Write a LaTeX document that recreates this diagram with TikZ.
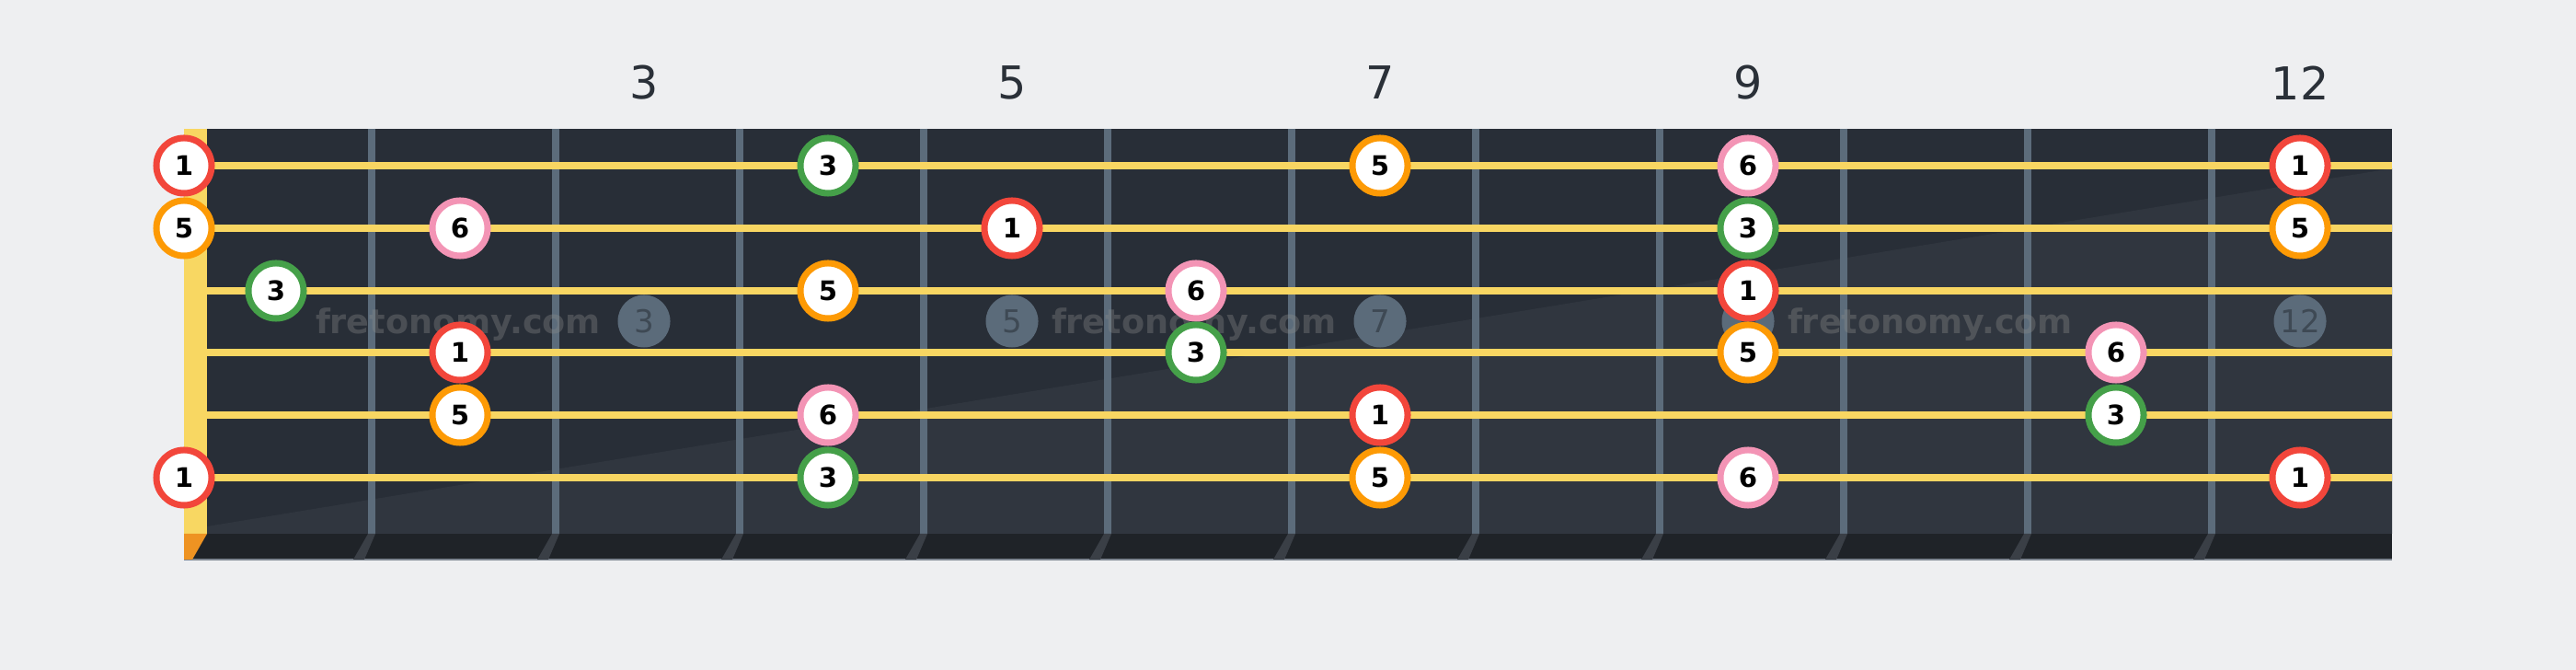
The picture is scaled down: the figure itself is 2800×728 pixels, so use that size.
\documentclass[tikz,border=0pt]{standalone}
\usepackage{fontspec}
\setmainfont{DejaVu Sans}
\usepackage{tikz}
\definecolor{fbpage}{HTML}{EEEFF1}
\definecolor{fbdark}{HTML}{282E37}
\definecolor{fblight}{HTML}{30363F}
\definecolor{fbstrip}{HTML}{1F2328}
\definecolor{fbedge}{HTML}{7D8590}
\definecolor{fbnut}{HTML}{F8D762}
\definecolor{fbnutfoot}{HTML}{EE9322}
\definecolor{fbfret}{HTML}{5C6C7B}
\definecolor{fbfretfoot}{HTML}{3A3F46}
\definecolor{fbstring}{HTML}{F8D662}
\definecolor{fbmark}{HTML}{5B6B7A}
\definecolor{fbmarktext}{HTML}{3E4954}
\definecolor{fbnumber}{HTML}{2A3038}
\definecolor{fbred}{HTML}{F2463B}
\definecolor{fborange}{HTML}{FD9A05}
\definecolor{fbgreen}{HTML}{45A049}
\definecolor{fbpink}{HTML}{F394B5}

\begin{document}
\begin{tikzpicture}[x=0.01cm, y=-0.01cm,
    note/.style   = {circle, draw, fill=white, line width=1.99pt,
                     minimum size=0.6cm, inner sep=0pt, text=black,
                     font=\bfseries\fontsize{8.3}{9}\selectfont},
    root/.style   = {note, draw=fbred},
    third/.style  = {note, draw=fbgreen},
    fifth/.style  = {note, draw=fborange},
    sixth/.style  = {note, draw=fbpink},
    marker/.style = {circle, fill=fbmark, minimum size=0.57cm, inner sep=0pt,
                     text=fbmarktext, font=\fontsize{9.7}{10}\selectfont},
    fretnum/.style= {text=fbnumber, font=\fontsize{14}{16}\selectfont},
    brand/.style  = {anchor=base, text=white!55!black, text opacity=0.35,
                     font=\bfseries\fontsize{10.4}{12}\selectfont},
    wire/.style   = {line width=2.28pt, fbfret},
    gut/.style    = {line width=2.2pt, fbstring},
]

  \useasboundingbox[fill=fbpage] (0,0) rectangle (2800,728);

  % Board
  \fill[fbdark] (225,140) rectangle (2600,580);
  \fill[fblight] (225,572) -- (2600,183) -- (2600,580) -- (225,580) -- cycle;
  \fill[fbstrip] (200,580) rectangle (2600,608);
  \fill[fbedge] (200,607) rectangle (2600,609);
  \fill[fbnut] (200,140) rectangle (225,580);
  \fill[fbnutfoot] (200,580) -- (225,580) -- (209,608) -- (200,608) -- cycle;

  % Frets
  \foreach \x in {404,604,...,2404} {
    \draw[wire] (\x,140) -- (\x,580);
    \fill[fbfretfoot] (\x-4,580) -- (\x+4,580) -- (\x-8,608) -- (\x-20,608) -- cycle;
  }

  % Fret numbers
  \node[fretnum] (n3)  at (700,90)  {3};
  \node[fretnum] (n5)  at (1100,90) {5};
  \node[fretnum] (n7)  at (1500,90) {7};
  \node[fretnum] (n9)  at (1900,90) {9};
  \node[fretnum] (n12) at (2500,90) {12};

  % Inlays
  \node[marker] (m3)  at (700,349)  {3};
  \node[marker] (m5)  at (1100,349) {5};
  \node[marker] (m7)  at (1500,349) {7};
  \node[marker] (m9)  at (1900,349) {9};
  \node[marker] (m12) at (2500,349) {12};

  % Watermark
  \node[brand] (w1) at (498,363)  {fretonomy.com};
  \node[brand] (w2) at (1298,363) {fretonomy.com};
  \node[brand] (w3) at (2098,363) {fretonomy.com};

  % Strings
  \foreach \y in {180,248,316,383,451,519}
    \draw[gut] (225,\y) -- (2600,\y);

  % String 1
  \node[root]  (s1f0)  at (200,180)  {1};
  \node[third] (s1f4)  at (900,180)  {3};
  \node[fifth] (s1f7)  at (1500,180) {5};
  \node[sixth] (s1f9)  at (1900,180) {6};
  \node[root]  (s1f12) at (2500,180) {1};

  % String 2
  \node[fifth] (s2f0)  at (200,248)  {5};
  \node[sixth] (s2f2)  at (500,248)  {6};
  \node[root]  (s2f5)  at (1100,248) {1};
  \node[third] (s2f9)  at (1900,248) {3};
  \node[fifth] (s2f12) at (2500,248) {5};

  % String 3
  \node[third] (s3f1)  at (300,316)  {3};
  \node[fifth] (s3f4)  at (900,316)  {5};
  \node[sixth] (s3f6)  at (1300,316) {6};
  \node[root]  (s3f9)  at (1900,316) {1};

  % String 4
  \node[root]  (s4f2)  at (500,383)  {1};
  \node[third] (s4f6)  at (1300,383) {3};
  \node[fifth] (s4f9)  at (1900,383) {5};
  \node[sixth] (s4f11) at (2300,383) {6};

  % String 5
  \node[fifth] (s5f2)  at (500,451)  {5};
  \node[sixth] (s5f4)  at (900,451)  {6};
  \node[root]  (s5f7)  at (1500,451) {1};
  \node[third] (s5f11) at (2300,451) {3};

  % String 6
  \node[root]  (s6f0)  at (200,519)  {1};
  \node[third] (s6f4)  at (900,519)  {3};
  \node[fifth] (s6f7)  at (1500,519) {5};
  \node[sixth] (s6f9)  at (1900,519) {6};
  \node[root]  (s6f12) at (2500,519) {1};

\end{tikzpicture}
\end{document}
